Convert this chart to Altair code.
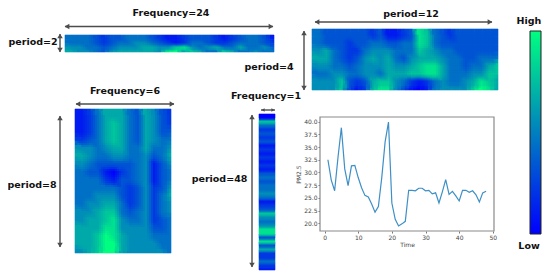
import altair as alt
import pandas as pd

BLUE, GREEN = "#0000ff", "#00ff80"
INK, ARROW = "#111111", "#4d4d4d"
OX, OY = 8, 8  # page margin

# Line chart values (hours 1..48)
pm25 = [32.5, 28.5, 26.4, 33, 38.8, 30.7, 27.4, 31.3, 31.4, 29, 27, 25.5,
        25.2, 23.8, 22.2, 23.3, 29, 36, 39.9, 24, 20.8, 19.5, 19.9, 20.4,
        26.5, 26.5, 26.4, 26.9, 26.9, 26.4, 26.5, 25.8, 26, 24, 26.2, 28.6,
        25.7, 26.3, 25.4, 24.4, 26.5, 26.5, 26.1, 26.4, 25.6, 24.2, 26, 26.3]

# Heat-map intensities, digits 0 (low) .. 9 (high)
grid_f24 = ["44432334443211233321234431",
            "44432344554321244322344432",
            "55443455566557854564464453",
            "65543566666589676447644544"]
grid_p12 = ["433333323112387432333333",
            "433323344334487433333333",
            "564322455544476544333333",
            "664323565643566654433444",
            "554434555655678864434467",
            "445544554666778864445577",
            "555732367754212454456876",
            "555731268853101455557986"]
grid_f6 = ["124666436532", "124676436532", "124676436533", "234676436544",
           "554566446445", "654455445346", "543333345135", "433102345134",
           "444213345134", "444443235235", "445553235246", "455664235245",
           "556774345245", "566785445234", "666885555334", "667986555444",
           "667996555544", "567996555554"]
grid_f1 = [c for c in "074232312121213434454123754588383622421"]

scale_color = alt.Scale(domain=[0, 1], range=[BLUE, GREEN], interpolate="rgb")
SHIFTS = [(0.5, 0, 0.5), (0, 0.5, 0.5), (0.5, 0.5, 0.35), (0.25, 0.25, 0.3), (0.75, 0.75, 0.25)]


def cells(rows, dc=0.0, dr=0.0):
    ncol, nrow = len(rows[0]), len(rows)
    out = []
    for r, row in enumerate(rows):
        for c, d in enumerate(row):
            if dc and c == ncol - 1:
                continue
            if dr and r == nrow - 1:
                continue
            out.append({"c": c + dc, "c2": c + 1 + dc, "r": r + dr, "r2": r + 1 + dr, "v": int(d) / 9})
    return pd.DataFrame(out)


def heat(rows, x0, x1, y0, y1):
    ncol, nrow = len(rows[0]), len(rows)
    xs = alt.Scale(domain=[0, ncol], range=[x0 - OX, x1 - OX], nice=False, zero=False)
    ys = alt.Scale(domain=[0, nrow], range=[y0 - OY, y1 - OY], nice=False, zero=False)
    base_enc = dict(x=alt.X("c:Q", axis=None, scale=xs), x2="c2:Q",
                    y=alt.Y("r:Q", axis=None, scale=ys), y2="r2:Q",
                    color=alt.Color("v:Q", legend=None, scale=scale_color))
    out = [alt.Chart(cells(rows)).mark_rect(strokeWidth=0.6).encode(
        stroke=alt.Stroke("v:Q", legend=None, scale=scale_color), **base_enc)]
    for dc, dr, op in SHIFTS:
        if ncol == 1:
            dc = 0
        out.append(alt.Chart(cells(rows, dc, dr)).mark_rect(strokeWidth=0, opacity=op).encode(**base_enc))
    return out


ONE = alt.Data(values=[{"a": 1}])


def label(text, x, y):
    return alt.Chart(ONE).mark_text(text=text, font="DejaVu Sans", fontWeight="bold", fontSize=9.5,
                                    color=INK, align="center", baseline="middle").encode(
        x=alt.value(x - OX), y=alt.value(y - OY))


def arrow_h(x0, x1, y, size=30):
    x0, x1, y = x0 - OX, x1 - OX, y - OY
    line = alt.Chart(ONE).mark_rule(color=ARROW, strokeWidth=1.4).encode(
        x=alt.value(x0), x2=alt.value(x1), y=alt.value(y))
    a = alt.Chart(ONE).mark_point(shape="triangle-left", filled=True, size=size, color=ARROW, opacity=1).encode(
        x=alt.value(x0 + 2), y=alt.value(y))
    b = alt.Chart(ONE).mark_point(shape="triangle-right", filled=True, size=size, color=ARROW, opacity=1).encode(
        x=alt.value(x1 - 2), y=alt.value(y))
    return [line, a, b]


def arrow_v(x, y0, y1, size=30):
    x, y0, y1 = x - OX, y0 - OY, y1 - OY
    line = alt.Chart(ONE).mark_rule(color=ARROW, strokeWidth=1.4).encode(
        x=alt.value(x), y=alt.value(y0), y2=alt.value(y1))
    a = alt.Chart(ONE).mark_point(shape="triangle-up", filled=True, size=size, color=ARROW, opacity=1).encode(
        x=alt.value(x), y=alt.value(y0 + 2))
    b = alt.Chart(ONE).mark_point(shape="triangle-down", filled=True, size=size, color=ARROW, opacity=1).encode(
        x=alt.value(x), y=alt.value(y1 - 2))
    return [line, a, b]


# Line panel
XS = alt.Scale(domain=[-1.35, 50.35], range=[320 - OX, 494 - OX], nice=False, zero=False)
YS = alt.Scale(domain=[40.9, 18.5], range=[117 - OY, 231 - OY], nice=False, zero=False)
line_df = pd.DataFrame({"t": list(range(1, 49)), "pm": pm25})
frame = alt.Chart(pd.DataFrame([{"x": -1.35, "x2": 50.35, "y": 18.5, "y2": 40.9}])).mark_rect(
    fill="white", stroke="#8a8a8a", strokeWidth=1.2).encode(
    x=alt.X("x:Q", axis=None, scale=XS), x2="x2:Q",
    y=alt.Y("y:Q", axis=None, scale=YS), y2="y2:Q")
series = alt.Chart(line_df).mark_line(color="#3d8fc6", strokeWidth=1.2).encode(
    x=alt.X("t:Q", scale=XS, axis=alt.Axis(
        title="Time", orient="bottom", offset=-42, values=[0, 10, 20, 30, 40, 50], grid=False, domain=False,
        tickSize=2, tickColor="#777", labelFontSize=6, labelColor="#444", labelPadding=1,
        titleFontSize=6, titleFontWeight="normal", titleColor="#444", titlePadding=1,
        labelFont="DejaVu Sans", titleFont="DejaVu Sans")),
    y=alt.Y("pm:Q", scale=YS, axis=alt.Axis(
        title="PM2.5", orient="left", offset=-(320 - OX), values=[20, 22.5, 25, 27.5, 30, 32.5, 35, 37.5, 40],
        format=".1f", grid=False, domain=False, tickSize=2, tickColor="#777", labelFontSize=6, labelColor="#444",
        labelPadding=1, titleFontSize=6, titleFontWeight="normal", titleColor="#444", titlePadding=2,
        labelFont="DejaVu Sans", titleFont="DejaVu Sans")))

# Colour bar
bar_fill = alt.LinearGradient(gradient="linear", x1=0, x2=0, y1=0, y2=1,
                              stops=[alt.GradientStop(color=GREEN, offset=0), alt.GradientStop(color=BLUE, offset=1)])
cbar = alt.Chart(ONE).mark_rect(fill=bar_fill, stroke="#222222", strokeWidth=1).encode(
    x=alt.value(530 - OX), x2=alt.value(541 - OX), y=alt.value(31 - OY), y2=alt.value(234 - OY))

layers = []
layers += heat(grid_f24, 65, 274, 35, 52)
layers += heat(grid_p12, 312, 498, 29, 90)
layers += heat(grid_f6, 75, 171, 109, 253)
layers += heat([[d] for d in grid_f1], 259, 275, 114, 270)
layers += [
    frame, series, cbar,
    label("Frequency=24", 171, 13), label("period=2", 33, 42),
    label("period=12", 411, 14), label("period=4", 269, 67),
    label("Frequency=6", 125, 91), label("period=8", 32, 185),
    label("Frequency=1", 266, 96), label("period=48", 219.5, 179),
    label("High", 529, 21), label("Low", 529, 246),
]
layers += arrow_h(65, 273, 26.5) + arrow_v(60, 34, 52)
layers += arrow_h(315, 492, 22) + arrow_v(304, 31, 90)
layers += arrow_h(76, 174, 104) + arrow_v(60, 116, 247)
layers += arrow_h(261, 275, 110, 14) + arrow_v(252, 115, 267)

chart = alt.layer(*layers).resolve_scale(x="independent", y="independent").properties(
    width=534, height=265, padding=0,
    autosize=alt.AutoSizeParams(type="none"),
).configure_view(stroke=None)

chart.save("out.html", embed_options={"renderer": "svg", "actions": False})
